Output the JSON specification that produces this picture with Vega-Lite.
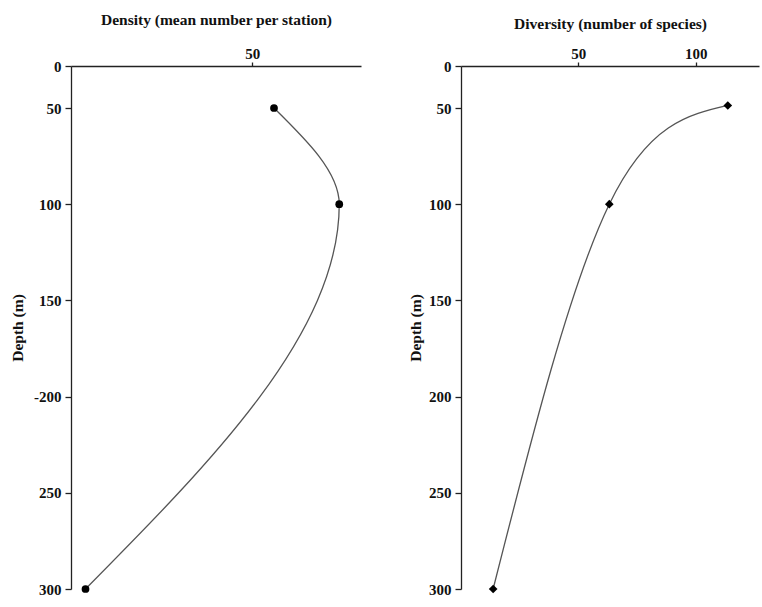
{
  "$schema": "https://vega.github.io/schema/vega-lite/v6.json",
  "background": "white",
  "padding": {"left": 10, "top": 12, "right": 2, "bottom": 5},
  "spacing": 100,
  "bounds": "flush",
  "config": {
    "view": {"stroke": null},
    "axis": {
      "grid": false,
      "domainColor": "#222",
      "tickColor": "#222",
      "domainWidth": 1.3,
      "tickWidth": 1.3,
      "tickSize": 6,
      "labelFont": "Liberation Serif",
      "labelFontWeight": "bold",
      "labelFontSize": 15,
      "labelColor": "#111",
      "titleFont": "Liberation Serif",
      "titleFontWeight": "bold",
      "titleFontSize": 15.5,
      "titleColor": "#111"
    }
  },
  "hconcat": [
    {
      "width": 290,
      "height": 523,
      "data": {"values": [
        {"density": 56, "depth": 50},
        {"density": 74, "depth": 100},
        {"density": 4, "depth": 300}
      ]},
      "encoding": {
        "x": {"field": "density", "type": "quantitative",
          "scale": {"domain": [0, 80], "nice": false},
          "axis": {"orient": "top", "values": [50], "title": "Density (mean number per station)", "titlePadding": 19, "labelPadding": 1, "tickSize": 4}},
        "y": {"field": "depth", "type": "quantitative",
          "scale": {"domain": [0, 50, 300], "range": [0, 42, 523], "nice": false, "zero": false},
          "axis": {"values": [0, 50, 100, 150, 200, 250, 300], "title": "Depth (m)", "labelExpr": "datum.value == 200 ? '-200' : datum.label", "titlePadding": 8, "labelPadding": 4}}
      },
      "layer": [
        {"mark": {"type": "area", "orient": "horizontal", "interpolate": "monotone", "fillOpacity": 0, "stroke": "#555", "strokeWidth": 1.3},
         "encoding": {"x2": {"field": "density"}}},
        {"mark": {"type": "point", "shape": "circle", "filled": true, "color": "black", "opacity": 1, "size": 60}}
      ]
    },
    {
      "width": 298,
      "height": 523,
      "data": {"values": [
        {"diversity": 113.7, "depth": 47},
        {"diversity": 63.2, "depth": 100},
        {"diversity": 13.7, "depth": 300}
      ]},
      "encoding": {
        "x": {"field": "diversity", "type": "quantitative",
          "scale": {"domain": [0, 127], "nice": false},
          "axis": {"orient": "top", "values": [50, 100], "title": "Diversity (number of species)", "titlePadding": 15, "labelPadding": 1, "tickSize": 4}},
        "y": {"field": "depth", "type": "quantitative",
          "scale": {"domain": [0, 50, 300], "range": [0, 42, 523], "nice": false, "zero": false},
          "axis": {"values": [0, 50, 100, 150, 200, 250, 300], "title": "Depth (m)", "titlePadding": 5, "labelPadding": 4}},
        "order": {"field": "depth", "type": "quantitative"}
      },
      "layer": [
        {"mark": {"type": "line", "interpolate": "natural", "color": "#555", "strokeWidth": 1.3}},
        {"mark": {"type": "point", "shape": "diamond", "filled": true, "color": "black", "opacity": 1, "size": 75}}
      ]
    }
  ]
}
